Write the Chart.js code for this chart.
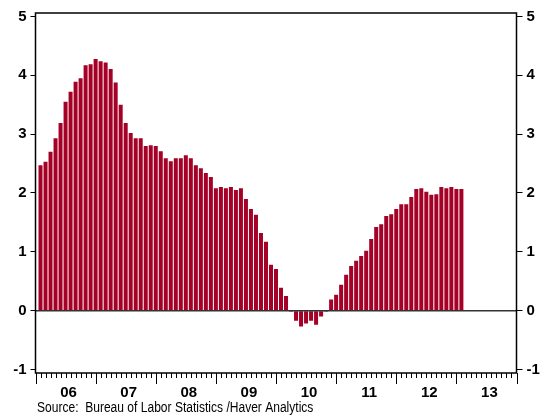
<!DOCTYPE html>
<html>
<head>
<meta charset="utf-8">
<script src="https://cdn.jsdelivr.net/npm/chart.js@4/dist/chart.umd.min.js"></script>
<style>
  body { margin: 0; background: #fff; }
  canvas { display: block; }
</style>
</head>
<body>
<canvas id="barChart" width="547" height="417"></canvas>
<script>
// monthly, first bar = Jan 2006
var startYear = 2006;
var values = [
    2.47, 2.53, 2.70, 2.93, 3.19, 3.55, 3.72, 3.89, 3.95, 4.17, 4.19, 4.28,
    4.24, 4.22, 4.11, 3.88, 3.50, 3.19, 3.02, 2.93, 2.93, 2.80, 2.81, 2.80,
    2.71, 2.59, 2.54, 2.59, 2.59, 2.64, 2.59, 2.47, 2.42, 2.34, 2.27, 2.08,
    2.10, 2.08, 2.10, 2.05, 2.08, 1.90, 1.73, 1.63, 1.32, 1.17, 0.78, 0.71,
    0.39, 0.25, -0.02, -0.17, -0.27, -0.22, -0.17, -0.24, -0.10, -0.02, 0.19, 0.27,
    0.44, 0.61, 0.76, 0.85, 0.93, 1.02, 1.22, 1.42, 1.47, 1.61, 1.64, 1.73,
    1.81, 1.81, 1.93, 2.07, 2.08, 2.02, 1.97, 1.98, 2.10, 2.08, 2.10, 2.07,
    2.07
];
var yearLabels = [ "06", "07", "08", "09", "10", "11", "12", "13" ];
var yTicks = [ -1, 0, 1, 2, 3, 4, 5 ];
var sourceText = "Source:  Bureau of Labor Statistics /Haver Analytics";

// bars sit at the end of each month
var points = values.map(function ( v, i ) {
    return { x: startYear + ( i + 1 ) / 12, y: v };
} );

var tickFont = { family: "'Liberation Sans', Arimo, Arial, sans-serif", size: 15, weight: "bold" };

function setYTicks( scale ) {
    scale.ticks = yTicks.map( function ( v ) { return { value: v }; } );
}

var decor = {
    id: "decor",
    afterDatasetsDraw: function ( chart ) {
        var ctx = chart.ctx, a = chart.chartArea;
        var x = chart.scales.x, y = chart.scales.y;
        function line( x1, y1, x2, y2 ) {
            ctx.beginPath(); ctx.moveTo( x1, y1 ); ctx.lineTo( x2, y2 ); ctx.stroke();
        }
        ctx.save();
        var y0 = y.getPixelForValue( 0 );
        ctx.strokeStyle = "#333";
        ctx.lineWidth = 1.5;
        line( a.left, y0, a.right, y0 );

        ctx.strokeStyle = "#000";
        ctx.lineWidth = 1.5;
        ctx.strokeRect( a.left, a.top, a.right - a.left, a.bottom - a.top );

        ctx.lineWidth = 1;
        for ( var m = 0; m <= yearLabels.length * 12; m++ ) {
            var px = Math.round( x.getPixelForValue( startYear + m / 12 ) ) + 0.5;
            line( px, a.bottom, px, a.bottom + ( m % 12 === 0 ? 11 : 5 ) );
        }

        // narrow source line (no narrow font installed, so squeeze it)
        ctx.fillStyle = "#000";
        ctx.font = "14px 'Liberation Sans', sans-serif";
        ctx.textBaseline = "middle";
        ctx.textAlign = "left";
        ctx.translate( 37, 408 );
        ctx.scale( 0.86, 1 );
        ctx.fillText( sourceText, 0, 0 );
        ctx.restore();
    }
};

var ctx = document.getElementById( "barChart" );
var myChart = new Chart( ctx, {
    type: "bar",
    data: {
        datasets: [ {
            data: points,
            backgroundColor: "#A50026",
            borderWidth: 0,
            barPercentage: 0.8,
            categoryPercentage: 1.0
        } ]
    },
    options: {
        responsive: false,
        animation: false,
        layout: { padding: { top: 12, left: 0, right: 0, bottom: 0 } },
        plugins: {
            legend: { display: false },
            tooltip: { enabled: false }
        },
        scales: {
            x: {
                type: "linear",
                offset: false,
                min: startYear,
                max: startYear + yearLabels.length,
                afterBuildTicks: function ( scale ) {
                    scale.ticks = yearLabels.map( function ( l, i ) {
                        return { value: startYear + i + 0.55 };
                    } );
                },
                afterFit: function ( scale ) { scale.height = 44; },
                grid: { display: false, drawTicks: false },
                border: { display: false },
                ticks: {
                    autoSkip: false,
                    maxRotation: 0,
                    padding: 11,
                    color: "#000",
                    font: tickFont,
                    callback: function ( v ) {
                        return yearLabels[ Math.floor( v - startYear ) ];
                    }
                }
            },
            y: {
                position: "left",
                min: -1.06,
                max: 5.06,
                afterBuildTicks: setYTicks,
                afterFit: function ( scale ) { scale.width = 35.5; },
                grid: { drawOnChartArea: false, tickLength: 5, color: "#000" },
                border: { display: false },
                ticks: { padding: 4, color: "#000", font: tickFont }
            },
            y2: {
                position: "right",
                min: -1.06,
                max: 5.06,
                afterBuildTicks: setYTicks,
                afterFit: function ( scale ) { scale.width = 30.5; },
                grid: { drawOnChartArea: false, tickLength: 6, color: "#000" },
                border: { display: false },
                ticks: { padding: 4, color: "#000", font: tickFont }
            }
        }
    },
    plugins: [ decor ]
} );
</script>
</body>
</html>
